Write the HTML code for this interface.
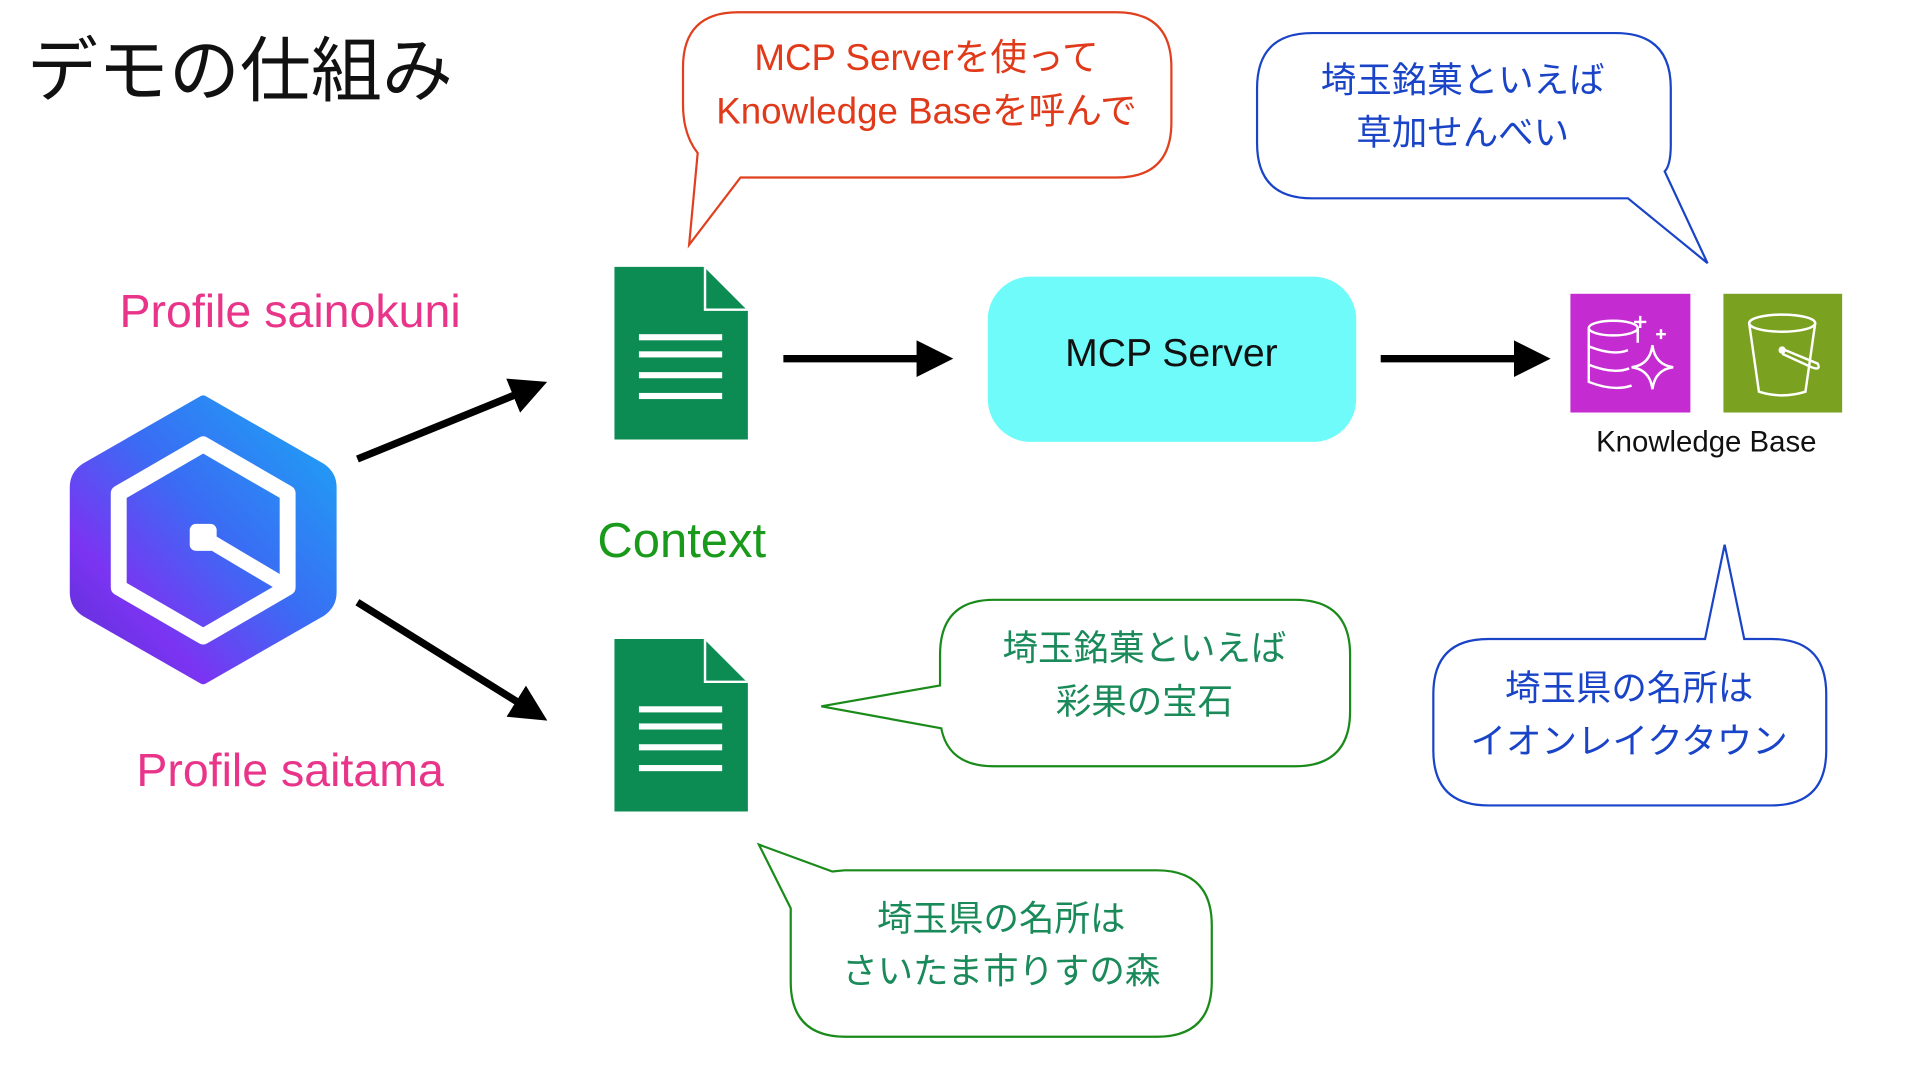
<!DOCTYPE html>
<html><head><meta charset="utf-8"><style>
html,body{margin:0;padding:0;background:#fff;width:1920px;height:1080px;overflow:hidden}
svg{display:block}
text{font-family:"Liberation Sans","Noto Sans CJK JP",sans-serif}
</style></head><body>
<svg width="1920" height="1080" viewBox="0 0 1568.6 882.3" xmlns="http://www.w3.org/2000/svg">
<defs>
<linearGradient id="lg" x1="1" y1="0" x2="0" y2="1">
<stop offset="0" stop-color="#1aa8f5"/><stop offset="0.45" stop-color="#3a6cf4"/><stop offset="0.75" stop-color="#7b34f2"/><stop offset="1" stop-color="#5a2fd0"/>
</linearGradient>
<marker id="ah" markerWidth="5" markerHeight="5" refX="3.2" refY="2.5" orient="auto" markerUnits="strokeWidth"><path d="M0,0 L5,2.5 L0,5 z" fill="#000"/></marker>
</defs>
<text x="22" y="78" font-size="58" fill="#111">デモの仕組み</text>

<!-- red bubble -->
<path d="M603,10 H912 Q957,10 957,55 V100 Q957,145 912,145 H605 L563,200 L570,125 Q558,110 558,85 V55 Q558,10 603,10 Z" fill="#fff" stroke="#e0401e" stroke-width="1.8"/>
<text x="757" y="57" font-size="30" fill="#e03a1a" text-anchor="middle">MCP Serverを使って</text>
<text x="757" y="101" font-size="30" fill="#e03a1a" text-anchor="middle">Knowledge Baseを呼んで</text>

<!-- blue top bubble -->
<path d="M1072,27 H1320 Q1365,27 1365,72 V118 Q1365,135 1360,140 L1395,215 L1330,162 H1072 Q1027,162 1027,117 V72 Q1027,27 1072,27 Z" fill="#fff" stroke="#1a44c8" stroke-width="1.8"/>
<text x="1195" y="75" font-size="29" fill="#1a44c8" text-anchor="middle">埼玉銘菓といえば</text>
<text x="1195" y="118" font-size="29" fill="#1a44c8" text-anchor="middle">草加せんべい</text>

<text x="237" y="267" font-size="38" fill="#e8358a" text-anchor="middle">Profile sainokuni</text>
<text x="237" y="642" font-size="38" fill="#e8358a" text-anchor="middle">Profile saitama</text>

<!-- logo -->
<path d="M166,327 L262,382 Q271,388 271,398 V484 Q271,494 262,500 L166,555 L70,500 Q61,494 61,484 V398 Q61,388 70,382 Z" fill="url(#lg)" stroke="url(#lg)" stroke-width="8" stroke-linejoin="round"/>
<path d="M166,363 L235,403 V480 L166,520 L97,480 V403 Z" fill="none" stroke="#fff" stroke-width="13" stroke-linejoin="round"/>
<line x1="168" y1="440" x2="232" y2="478" stroke="#fff" stroke-width="12"/>
<rect x="155" y="428" width="22" height="22" rx="5" fill="#fff"/>

<!-- arrows -->
<g stroke="#000" stroke-width="6" fill="none">
<line x1="292" y1="375" x2="437" y2="316" marker-end="url(#ah)"/>
<line x1="292" y1="492" x2="438" y2="583" marker-end="url(#ah)"/>
<line x1="640" y1="293" x2="768" y2="293" marker-end="url(#ah)"/>
<line x1="1128" y1="293" x2="1256" y2="293" marker-end="url(#ah)"/>
</g>

<!-- docs -->
<g>
<path d="M502,218 H575 L611,254 V359 H502 Z" fill="#0c8c53"/>
<path d="M575,218 V254 H611 Z" fill="#fff"/><path d="M577,220 L609,252 H577 Z" fill="#0c8c53"/>
<g fill="#fff"><rect x="522" y="273" width="68" height="5"/><rect x="522" y="287" width="68" height="5"/><rect x="522" y="304" width="68" height="5"/><rect x="522" y="321" width="68" height="5"/></g>
</g>
<g transform="translate(0,304)">
<path d="M502,218 H575 L611,254 V359 H502 Z" fill="#0c8c53"/>
<path d="M575,218 V254 H611 Z" fill="#fff"/><path d="M577,220 L609,252 H577 Z" fill="#0c8c53"/>
<g fill="#fff"><rect x="522" y="273" width="68" height="5"/><rect x="522" y="287" width="68" height="5"/><rect x="522" y="304" width="68" height="5"/><rect x="522" y="321" width="68" height="5"/></g>
</g>
<text x="557" y="455" font-size="40" fill="#1a9a1a" text-anchor="middle">Context</text>

<!-- MCP server -->
<rect x="807" y="226" width="301" height="135" rx="35" fill="#70fbfb"/>
<text x="957" y="299" font-size="32" fill="#111" text-anchor="middle">MCP Server</text>

<!-- KB icons -->
<rect x="1283" y="240" width="98" height="97" fill="#c42bd0"/>
<g stroke="#fff" stroke-width="2" fill="none">
<ellipse cx="1318" cy="268" rx="20" ry="6"/>
<path d="M1298,268 V312 Q1318,320 1333,315 M1298,283 Q1318,291 1330,286 M1298,298 Q1318,306 1331,301 M1338,268 V280"/>
<path d="M1350,282 Q1352,298 1367,300 Q1352,302 1350,318 Q1348,302 1333,300 Q1348,298 1350,282 Z"/>
<path d="M1340,258 v10 M1335,263 h10 M1357,269 v8 M1353,273 h8"/>
</g>
<rect x="1408" y="240" width="97" height="97" fill="#7aa11f"/>
<g stroke="#fff" stroke-width="2" fill="none">
<ellipse cx="1456" cy="264" rx="27" ry="7"/>
<path d="M1429,264 L1437,320 Q1456,326 1475,320 L1483,264"/>
<path d="M1456,285 L1485,297 Q1488,303 1480,300 L1456,289"/>
</g>
<circle cx="1456" cy="286" r="3" fill="#fff"/>
<text x="1394" y="369" font-size="24" fill="#111" text-anchor="middle">Knowledge Base</text>

<!-- green bubble 1 -->
<path d="M812,490 H1058 Q1103,490 1103,535 V581 Q1103,626 1058,626 H812 Q775,626 769,595 L671,577 L768,560 V535 Q768,490 812,490 Z" fill="#fff" stroke="#1a8a1a" stroke-width="1.8"/>
<text x="935" y="539" font-size="29" fill="#1a8a5a" text-anchor="middle">埼玉銘菓といえば</text>
<text x="935" y="583" font-size="29" fill="#1a8a5a" text-anchor="middle">彩果の宝石</text>

<!-- blue bottom bubble -->
<path d="M1216,522 H1393 L1409,445 L1425,522 H1447 Q1492,522 1492,567 V613 Q1492,658 1447,658 H1216 Q1171,658 1171,613 V567 Q1171,522 1216,522 Z" fill="#fff" stroke="#1a44c8" stroke-width="1.8"/>
<text x="1331" y="572" font-size="29" fill="#1a44c8" text-anchor="middle">埼玉県の名所は</text>
<text x="1331" y="615" font-size="29" fill="#1a44c8" text-anchor="middle">イオンレイクタウン</text>

<!-- green bubble 2 -->
<path d="M690,711 H945 Q990,711 990,756 V802 Q990,847 945,847 H691 Q646,847 646,802 V742 L620,690 L680,712 Z" fill="#fff" stroke="#1a8a1a" stroke-width="1.8"/>
<text x="818" y="760" font-size="29" fill="#1a8a5a" text-anchor="middle">埼玉県の名所は</text>
<text x="818" y="803" font-size="29" fill="#1a8a5a" text-anchor="middle">さいたま市りすの森</text>
</svg>
</body></html>
